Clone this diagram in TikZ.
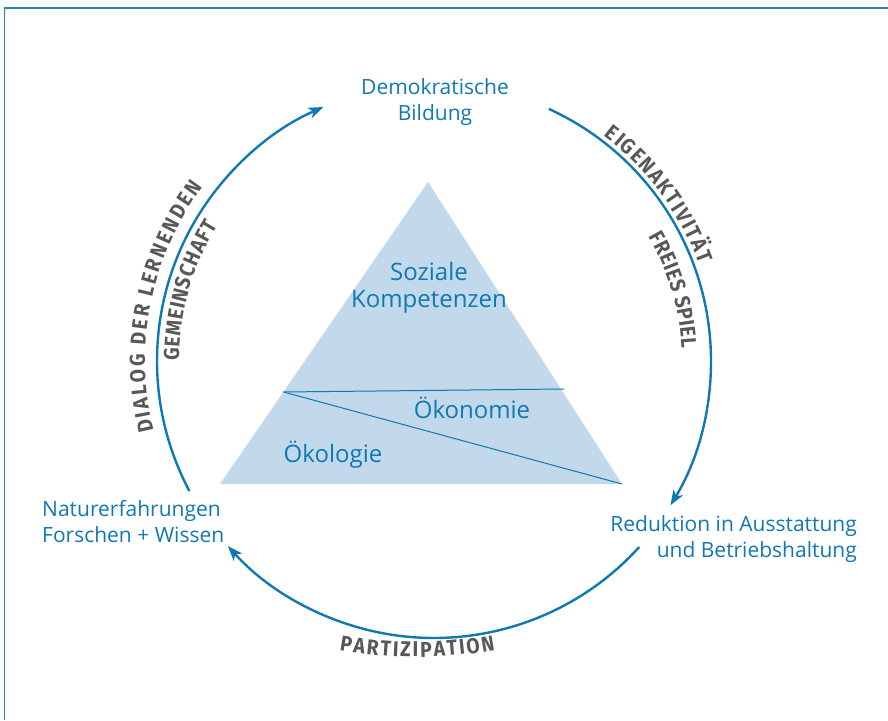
\documentclass[tikz,border=0pt]{standalone}
\usepackage{fontspec}
\setmainfont{Open Sans}
\newfontfamily\lblfont{Fira Sans}[FakeStretch=0.9]
\usetikzlibrary{arrows.meta,decorations.text,calc}
\definecolor{mblue}{RGB}{16,120,178}
\definecolor{trifill}{RGB}{193,217,235}
\definecolor{lblgray}{RGB}{88,88,88}
\definecolor{framecol}{RGB}{40,130,190}
\newcommand\lbltxt{\lblfont\bfseries\fontsize{21.5}{21.5}\selectfont\color{lblgray}}
\tikzset{
  bluetext/.style={text=mblue, inner sep=0pt, font=\fontsize{21}{26.5}\selectfont},
  bigtext/.style={text=mblue, inner sep=0pt, font=\fontsize{24}{27}\selectfont},
  cyclearrow/.style={draw=mblue, line width=2.4pt, -{Stealth[length=15pt,width=11pt,inset=4pt]}},
  framestyle/.style={draw=framecol, line width=1.4pt},
  splitline/.style={draw=mblue, line width=1pt},
  curvedlabel/.style={decorate, decoration={text along path, text align={fit to path}, text={#1}}}
}
\begin{document}
\begin{tikzpicture}[x=1pt,y=1pt]
\useasboundingbox (0,0) rectangle (888,720);
% frame
\draw[framestyle] (4.5,0) -- (4.5,712) -- (888,712);

% pyramid
\coordinate (apex) at (428,538);
\coordinate (bl) at (220,236);
\coordinate (br) at (622,236);
\coordinate (hl) at (283.5,328);
\coordinate (hr) at (564,331);
\fill[trifill] (apex) -- (bl) -- (br) -- cycle;
\draw[splitline] (hl) -- (hr);
\draw[splitline] (hl) -- (br);

\node[bigtext, align=center, anchor=base] (soz) at (429,412) {Soziale\\Kompetenzen};
\node[bigtext, anchor=base] (oekon) at (472,301) {Ökonomie};
\node[bigtext, anchor=base] (oekol) at (333,257) {Ökologie};

% cycle nodes
\node[bluetext, align=center, anchor=base] (demo) at (435,599) {Demokratische\\Bildung};
\node[bluetext, align=left, anchor=base west] (natur) at (42,177) {Naturerfahrungen\\Forschen + Wissen};
\node[bluetext, align=right, anchor=base east] (redu) at (857,162) {Reduktion in Ausstattung\\und Betriebshaltung};

% cycle arrows
\coordinate (O) at (434,359);
\draw[cyclearrow] ($(O)+(208:277)$) arc[start angle=208, end angle=113.5, radius=277];
\draw[cyclearrow] ($(O)+(65.5:277)$) arc[start angle=65.5, end angle=-31.4, radius=277];
\draw[cyclearrow] ($(O)+(-42.2:277)$) arc[start angle=-42.2, end angle=-138.1, radius=277];

% curved labels
\path[curvedlabel={|\lbltxt|DIALOG DER LERNENDEN}] ($(O)+(194:289)$) arc[start angle=194, end angle=143, radius=289];
\path[curvedlabel={|\lbltxt|GEMEINSCHAFT}] ($(O)+(180:255)$) arc[start angle=180, end angle=148, radius=255];
\path[curvedlabel={|\lbltxt|EIGENAKTIVITÄT}] ($(O)+(53:282)$) arc[start angle=53, end angle=20, radius=282];
\path[curvedlabel={|\lbltxt|FREIES SPIEL}] ($(O)+(30:248)$) arc[start angle=30, end angle=3, radius=248];
\coordinate (P) at (417,501);
\path[curvedlabel={|\lbltxt|PARTIZIPATION}] ($(P)+(259.8:438)$) arc[start angle=259.8, end angle=280.3, radius=438];
\end{tikzpicture}
\end{document}
